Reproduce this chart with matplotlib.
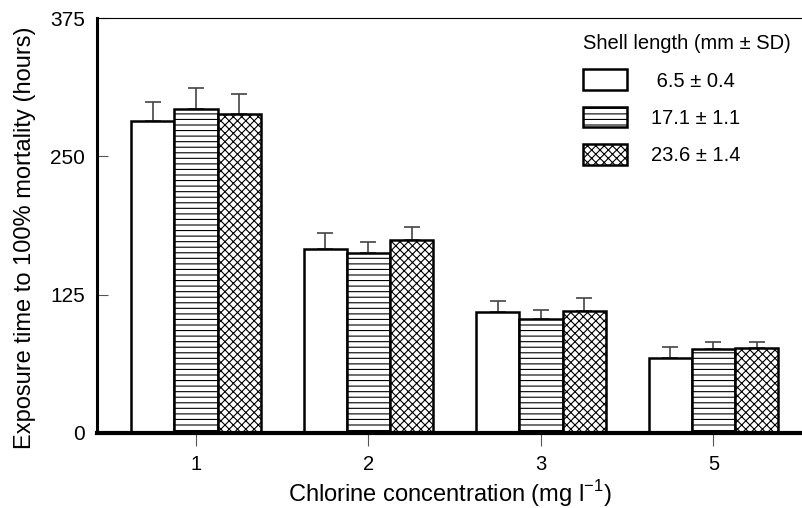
import numpy as np
import matplotlib
matplotlib.use("Agg")
import matplotlib.pyplot as plt

# exposure time to 100% mortality (hours), by chlorine concentration
concentrations = ['1', '2', '3', '5']
size_labels = [' 6.5 \u00b1 0.4', '17.1 \u00b1 1.1', '23.6 \u00b1 1.4']
means = {
    'small': [282, 166, 109, 68],
    'medium': [293, 163, 103, 76],
    'large': [288, 174, 110, 77],
}
sds = {
    'small': [17, 15, 10, 10],
    'medium': [19, 10, 8, 6],
    'large': [18, 12, 12, 5],
}

plt.rcParams['font.family'] = ['Liberation Sans', 'DejaVu Sans']
plt.rcParams['hatch.linewidth'] = 0.8
plt.rcParams['hatch.color'] = '#333333'

fig = plt.figure(figsize=(8.03, 5.08), dpi=100)
ax = fig.add_axes([97 / 803, 75 / 508, 1 - 97 / 803, 415 / 508])

x = np.arange(len(concentrations)) + 1
width = 0.25
hatches = ['', '---', 'xxxx']
keys = ['small', 'medium', 'large']

for i, key in enumerate(keys):
    pos = x + (i - 1) * width
    vals = np.array(means[key])
    err = np.array(sds[key])
    ax.bar(pos, vals, width, color='white', edgecolor='black', linewidth=1.8,
           hatch=hatches[i], label=size_labels[i], zorder=2)
    ax.errorbar(pos, vals, yerr=[np.zeros_like(err), err], fmt='none',
                ecolor='#444444', elinewidth=1.2, capsize=6, capthick=1.2, zorder=1)

ax.set_ylim(0, 375)
ax.set_xlim(0.426, 4.519)
ax.set_yticks([0, 125, 250, 375])
ax.set_xticks(x)
ax.set_xticklabels(concentrations)

ax.spines['right'].set_visible(False)
ax.spines['top'].set_linewidth(0.8)
ax.spines['left'].set_linewidth(2.2)
ax.spines['bottom'].set_linewidth(3)
ax.tick_params(axis='y', direction='in', length=8, width=0.8, color='#555555',
               labelsize=15, pad=8.5)
ax.tick_params(axis='x', direction='out', length=9, width=0.8, color='#555555',
               labelsize=14.5, pad=7)

ax.set_ylabel('Exposure time to 100% mortality (hours)', fontsize=17)
ax.yaxis.set_label_coords(-0.087, 0.47)
ax.set_xlabel('Chlorine concentration (mg l$^{\\mathregular{-1}}$)', fontsize=17, labelpad=3)

leg = ax.legend(title='Shell length (mm \u00b1 SD)', frameon=False, fontsize=14.5,
                title_fontsize=14.5, handlelength=2.2, handleheight=1.2,
                labelspacing=0.8, handletextpad=1.2, borderpad=0,
                loc='upper left', bbox_to_anchor=(0.674, 0.985))
leg._legend_box.align = 'left'

fig.savefig('out.png', dpi=100)
